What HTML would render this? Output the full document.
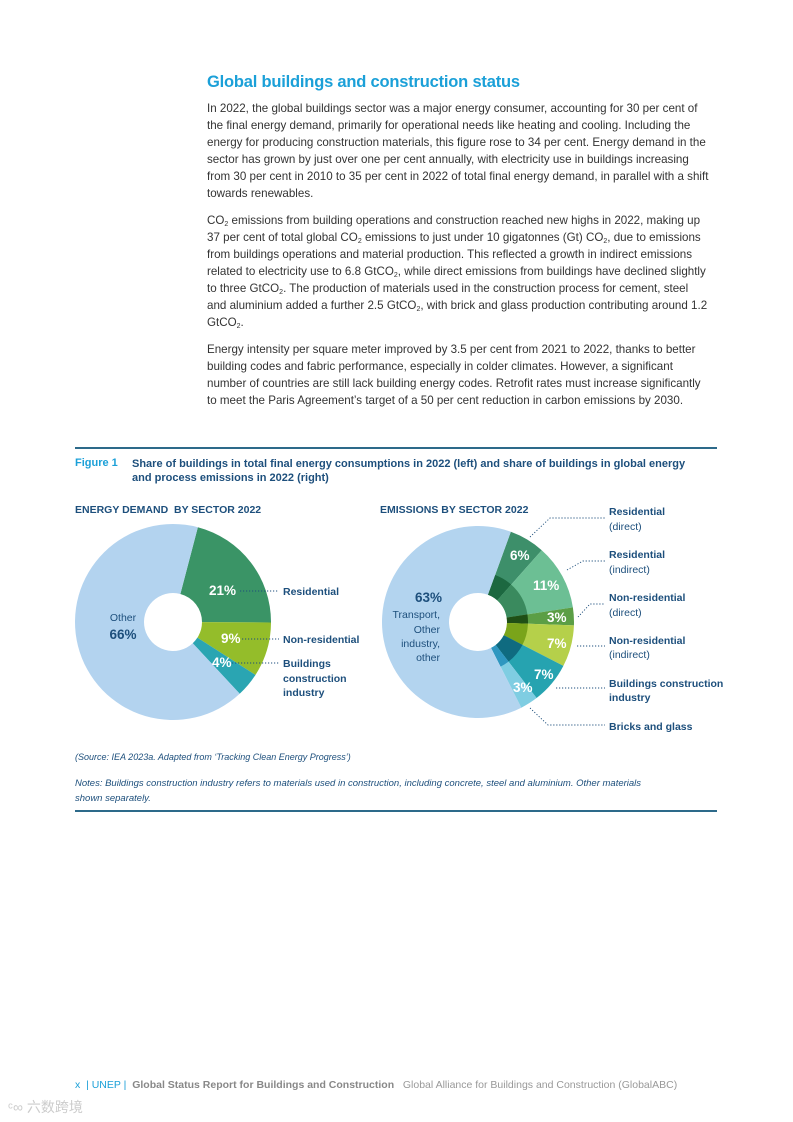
<!DOCTYPE html>
<html><head><meta charset="utf-8"><style>
body{margin:0;background:#fff;}
#p{position:relative;width:793px;height:1122px;overflow:hidden;font-family:"Liberation Sans",sans-serif;}
.t{position:absolute;white-space:nowrap;}
.b{font-size:11.6px;color:#333;letter-spacing:0;left:207px}
sub{font-size:7px;vertical-align:-2px;line-height:0}
.lab{font-weight:bold;fill:#1d4f7c;font-size:10.5px;}
.lab2{fill:#1d4f7c;font-size:10.5px;}
.pc{font-weight:bold;fill:#fff;font-size:13.5px;}
</style></head><body><div id="p">
<div class="t" style="left:207px;top:73px;font-size:16.5px;font-weight:bold;color:#1ba0d8;letter-spacing:-0.2px">Global buildings and construction status</div>
<div class="t b" style="top:102px">In 2022, the global buildings sector was a major energy consumer, accounting for 30 per cent of</div>
<div class="t b" style="top:119px">the final energy demand, primarily for operational needs like heating and cooling. Including the</div>
<div class="t b" style="top:136px">energy for producing construction materials, this figure rose to 34 per cent. Energy demand in the</div>
<div class="t b" style="top:153px">sector has grown by just over one per cent annually, with electricity use in buildings increasing</div>
<div class="t b" style="top:170px">from 30 per cent in 2010 to 35 per cent in 2022 of total final energy demand, in parallel with a shift</div>
<div class="t b" style="top:187px">towards renewables.</div>
<div class="t b" style="top:214px">CO<sub>2</sub> emissions from building operations and construction reached new highs in 2022, making up</div>
<div class="t b" style="top:231px">37 per cent of total global CO<sub>2</sub> emissions to just under 10 gigatonnes (Gt) CO<sub>2</sub>, due to emissions</div>
<div class="t b" style="top:248px">from buildings operations and material production. This reflected a growth in indirect emissions</div>
<div class="t b" style="top:265px">related to electricity use to 6.8 GtCO<sub>2</sub>, while direct emissions from buildings have declined slightly</div>
<div class="t b" style="top:282px">to three GtCO<sub>2</sub>. The production of materials used in the construction process for cement, steel</div>
<div class="t b" style="top:299px">and aluminium added a further 2.5 GtCO<sub>2</sub>, with brick and glass production contributing around 1.2</div>
<div class="t b" style="top:316px">GtCO<sub>2</sub>.</div>
<div class="t b" style="top:343px">Energy intensity per square meter improved by 3.5 per cent from 2021 to 2022, thanks to better</div>
<div class="t b" style="top:360px">building codes and fabric performance, especially in colder climates. However, a significant</div>
<div class="t b" style="top:377px">number of countries are still lack building energy codes. Retrofit rates must increase significantly</div>
<div class="t b" style="top:394px">to meet the Paris Agreement’s target of a 50 per cent reduction in carbon emissions by 2030.</div>
<div style="position:absolute;left:75px;top:447px;width:642px;height:1.5px;background:#2d6a8a"></div>
<div class="t" style="left:75px;top:457px;font-size:11px;font-weight:bold;color:#1ba0d8;">Figure 1</div>
<div class="t" style="left:132px;top:457px;font-size:11px;font-weight:bold;color:#1d4f7c;line-height:14px;">Share of buildings in total final energy consumptions in 2022 (left) and share of buildings in global energy<br>and process emissions in 2022 (right)</div>
<div class="t" style="left:75px;top:504px;font-size:10.5px;font-weight:bold;color:#1d4f7c;">ENERGY DEMAND&nbsp; BY SECTOR 2022</div>
<div class="t" style="left:380px;top:504px;font-size:10.5px;font-weight:bold;color:#1d4f7c;">EMISSIONS BY SECTOR 2022</div>
<svg id="s" width="793" height="1122" style="position:absolute;left:0;top:0"></svg>
<div class="t" style="left:75px;top:752px;font-size:9px;font-style:italic;color:#1d4f7c;">(Source: IEA 2023a. Adapted from ‘Tracking Clean Energy Progress’)</div>
<div class="t" style="left:75px;top:777px;font-size:9.5px;font-style:italic;color:#1d4f7c;line-height:14.5px;">Notes: Buildings construction industry refers to materials used in construction, including concrete, steel and aluminium. Other materials<br>shown separately.</div>
<div style="position:absolute;left:75px;top:810px;width:642px;height:1.5px;background:#2d6a8a"></div>
<div class="t" style="left:75px;top:1079px;font-size:10.5px;color:#999;"><span style="color:#1ba0d8">x &nbsp;| UNEP |</span> &nbsp;<b style="color:#888">Global Status Report for Buildings and Construction</b> &nbsp; Global Alliance for Buildings and Construction (GlobalABC)</div>
<div class="t" style="left:8px;top:1097px;font-size:14px;color:#ccc;font-family:'Liberation Sans','Noto Sans CJK SC',sans-serif;">ᶜ∞ 六数跨境</div>
</div>
<script>
var s=document.getElementById('s'),NS='http://www.w3.org/2000/svg';
function arc(cx,cy,r0,r1,a0,a1,c){var R=Math.PI/180;function pt(r,a){return [cx+r*Math.sin(a*R),cy-r*Math.cos(a*R)];}
var l=(a1-a0)>180?1:0,p1=pt(r1,a0),p2=pt(r1,a1),p3=pt(r0,a1),p4=pt(r0,a0);
var e=document.createElementNS(NS,'path');e.setAttribute('d','M'+p1+'A'+r1+','+r1+' 0 '+l+' 1 '+p2+'L'+p3+'A'+r0+','+r0+' 0 '+l+' 0 '+p4+'Z');e.setAttribute('fill',c);s.appendChild(e);}
var a=14.7;[[21,'#3a9466'],[9,'#94bd2a'],[4,'#2aa5b2'],[66,'#b3d3ef']].forEach(function(d){var b=a+d[0]*3.6;arc(173,622,29,98,a,b,d[1]);a=b;});
a=20;[[6,'#3d8f6a','#1c6840'],[11,'#6cbf94','#3a8a5e'],[3,'#5b9e45','#1f4f16'],[7,'#b5d04a','#7aa41a'],[7,'#26a3b0','#0f6b80'],[3,'#7fcde2','#2f97c0'],[63,'#b3d4ef',null]].forEach(function(d){var b=a+d[0]*3.6;arc(478,622,29,96,a,b,d[1]);if(d[2])arc(478,622,29,50,a,b,d[2]);a=b;});
var h='';
function T(x,y,t,c,anc){h+='<text x="'+x+'" y="'+y+'" class="'+c+'"'+(anc?' text-anchor="'+anc+'"':'')+'>'+t+'</text>';}
function L(pts){h+='<polyline points="'+pts+'" fill="none" stroke="#1d4f7c" stroke-width="0.9" stroke-dasharray="1.2,1.8"/>';}
T(209,595,'21%','pc');T(221,643,'9%','pc');T(212,667,'4%','pc');
T(123,621,'Other','lab2','middle');h+='<text x="123" y="639" class="lab" style="font-size:13.5px" text-anchor="middle">66%</text>';
L('240,591 279,591');L('242,639 279,639');L('232,663 279,663');
T(283,595,'Residential','lab');T(283,643,'Non-residential','lab');T(283,667,'Buildings','lab');T(283,682,'construction','lab');T(283,696,'industry','lab');
T(510,560,'6%','pc');T(533,590,'11%','pc');T(547,622,'3%','pc');T(547,648,'7%','pc');T(534,679,'7%','pc');T(513,692,'3%','pc');
h+='<text x="442" y="602" class="lab" style="font-size:13.5px" text-anchor="end">63%</text>';
T(440,618,'Transport,','lab2','end');T(440,633,'Other','lab2','end');T(440,647,'industry,','lab2','end');T(440,661,'other','lab2','end');
L('530,537 550,518 605,518');L('567,570 583,561 605,561');L('578,617 590,604 605,604');L('577,646 605,646');L('556,688 605,688');L('530,708 548,725 605,725');
[['Residential',515,1],['(direct)',530,0],['Residential',558,1],['(indirect)',573,0],['Non-residential',601,1],['(direct)',616,0],['Non-residential',644,1],['(indirect)',658,0],['Buildings construction',687,1],['industry',701,1],['Bricks and glass',730,1]].forEach(function(d){T(609,d[1],d[0],d[2]?'lab':'lab2');});
s.innerHTML+=h;
</script>
</body></html>
